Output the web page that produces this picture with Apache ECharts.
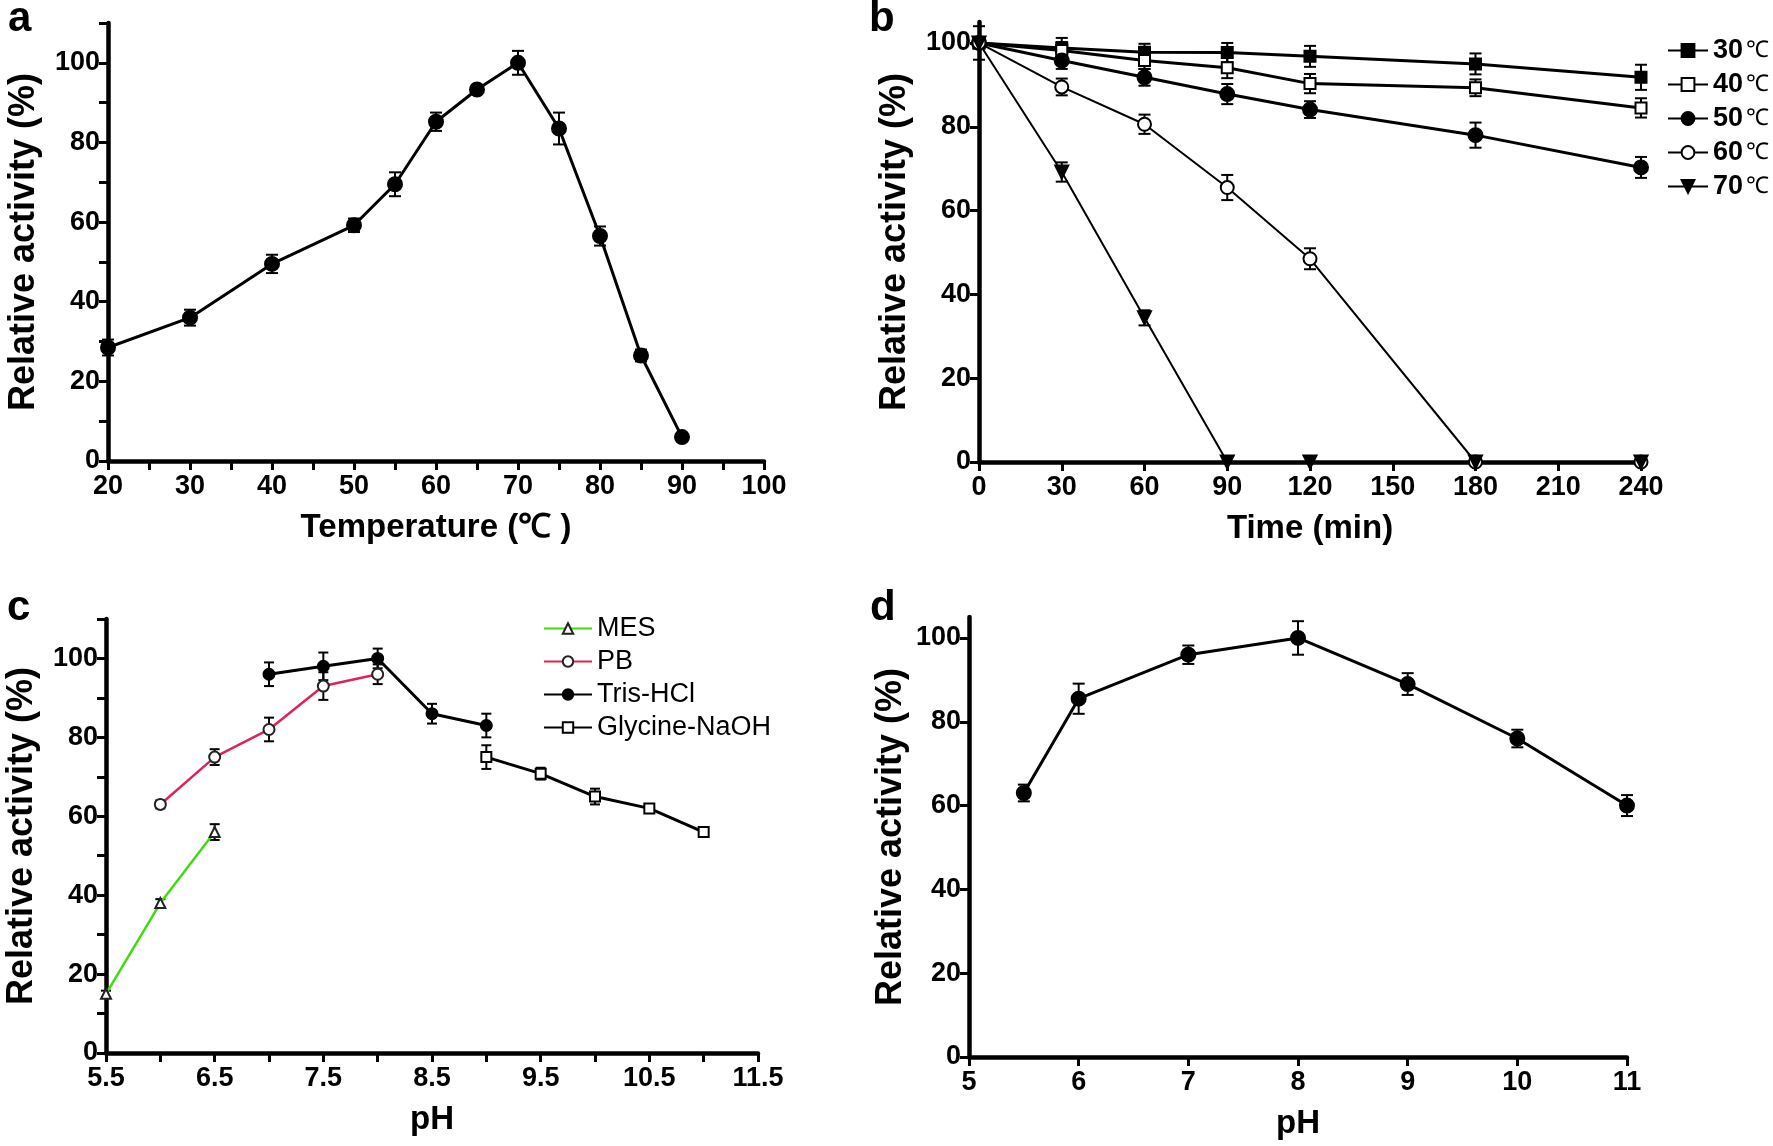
<!DOCTYPE html>
<html><head><meta charset="utf-8">
<script src="https://cdn.jsdelivr.net/npm/echarts@6/dist/echarts.min.js"></script>
<style>html,body{margin:0;padding:0;background:#fff}#chart{width:1773px;height:1146px}</style>
</head><body><div id="chart"></div>
<script>
// ---------- Panel a: optimal temperature ----------
const tempX = [20, 30, 40, 50, 55, 60, 65, 70, 75, 80, 85, 90];
const tempY = [28.5, 36, 49.5, 59.2, 69.5, 85.2, 93.3, 100, 83.5, 56.5, 26.5, 6];
const tempErr = [2, 2, 2.3, 1.7, 3, 2.3, 0.8, 3, 4, 2.4, 1.5, 0.5];
const tempXTicks = [20, 25, 30, 35, 40, 45, 50, 55, 60, 65, 70, 75, 80, 85, 90, 95, 100];
const tempXLabels = [20, 30, 40, 50, 60, 70, 80, 90, 100];

// shared y ticks
const yTicks110 = [0, 10, 20, 30, 40, 50, 60, 70, 80, 90, 100, 110];
const yLabels = [0, 20, 40, 60, 80, 100];

// ---------- Panel b: thermostability ----------
const timeX = [0, 30, 60, 90, 120, 180, 240];
const timeLabels = [0, 30, 60, 90, 120, 150, 180, 210, 240];
const stabNames = ['30 ℃', '40 ℃', '50 ℃', '60 ℃', '70 ℃'];
const stab30 = [100, 98.8, 97.8, 97.7, 96.8, 95, 91.8];
const stab40 = [100, 98.2, 95.8, 94.1, 90.3, 89.3, 84.5];
const stab50 = [100, 95.8, 91.8, 87.8, 84.1, 78, 70.3];
const stab60 = [100, 89.5, 80.6, 65.5, 48.5, 0, 0];
const stab70 = [100, 69.2, 34.4, 0, 0, 0, 0];
const err30 = [4, 2.4, 2, 2.3, 2.5, 2.5, 3];
const err40 = [0, 2, 2, 2.5, 2.3, 2, 2.3];
const err50 = [0, 2, 2, 2.4, 2, 3, 2.5];
const err60 = [0, 2, 2.3, 3, 2.5, 0.6, 0.6];
const err70 = [0, 2.3, 1.8, 0, 0, 0, 0];

// ---------- Panel c: optimal pH in buffers ----------
const bufNames = ['MES', 'PB', 'Tris-HCl', 'Glycine-NaOH'];
const mesX = [5.5, 6, 6.5];
const mesY = [15, 38, 56];
const mesErr = [0.8, 1, 2];
const pbX = [6, 6.5, 7, 7.5, 8];
const pbY = [63, 75, 82, 93, 96];
const pbErr = [1, 2, 3, 3.5, 2.5];
const trisX = [7, 7.5, 8, 8.5, 9];
const trisY = [96, 98, 100, 86, 83];
const trisErr = [3, 3.5, 2.5, 2.5, 3];
const glyX = [9, 9.5, 10, 10.5, 11];
const glyY = [75, 70.8, 65, 62, 56];
const glyErr = [3, 1.5, 2, 1, 0.5];
const phCTicks = [5.5, 6, 6.5, 7, 7.5, 8, 8.5, 9, 9.5, 10, 10.5, 11, 11.5];
const phCLabels = [5.5, 6.5, 7.5, 8.5, 9.5, 10.5, 11.5];

// ---------- Panel d: pH stability ----------
const phDX = [5.5, 6, 7, 8, 9, 10, 11];
const phDY = [63, 85.5, 96, 100, 89, 76, 60];
const phDErr = [2, 3.6, 2.2, 4, 2.6, 2.1, 2.5];
const phDLabels = [5, 6, 7, 8, 9, 10, 11];

// ---------- helpers ----------
const SANS = "'Liberation Sans', Arial, Helvetica, sans-serif";
const zip = (xs, ys) => xs.map((x, i) => [x, ys[i]]);
const errData = (xs, ys, es) => xs.map((x, i) => [x, ys[i] - es[i], ys[i] + es[i], es[i]]).filter(d => d[3] > 0);

function errBar(cap, lw) {
  return function (params, api) {
    const x = api.value(0);
    const lo = api.coord([x, api.value(1)]);
    const hi = api.coord([x, api.value(2)]);
    const st = { stroke: '#000', lineWidth: lw };
    return {
      type: 'group', children: [
        { type: 'line', shape: { x1: lo[0], y1: lo[1], x2: hi[0], y2: hi[1] }, style: st },
        { type: 'line', shape: { x1: lo[0] - cap, y1: lo[1], x2: lo[0] + cap, y2: lo[1] }, style: st },
        { type: 'line', shape: { x1: hi[0] - cap, y1: hi[1], x2: hi[0] + cap, y2: hi[1] }, style: st }
      ]
    };
  };
}
function errSeries(grid, xs, ys, es, cap, lw) {
  return { type: 'custom', xAxisIndex: grid, yAxisIndex: grid, z: 1, silent: true,
    renderItem: errBar(cap, lw), data: errData(xs, ys, es), encode: { x: 0, y: [1, 2] } };
}
const tickLabelStyle = { color: '#000', fontFamily: SANS, fontWeight: 'bold', fontSize: 27 };
function xAx(grid, min, max, ticks, labels, name, gap) {
  return {
    type: 'value', gridIndex: grid, min: min, max: max,
    axisLine: { show: true, onZero: false, lineStyle: { color: '#000', width: 4.5 } },
    axisTick: { show: true, customValues: ticks, length: 9, lineStyle: { color: '#000', width: 3 } },
    axisLabel: Object.assign({ customValues: labels, margin: 12 }, tickLabelStyle),
    splitLine: { show: false },
    name: name, nameLocation: 'middle', nameGap: gap,
    nameTextStyle: { color: '#000', fontFamily: SANS, fontWeight: 'bold', fontSize: 33 }
  };
}
function yAx(grid, max, ticks, labels, gap) {
  return {
    type: 'value', gridIndex: grid, min: 0, max: max,
    axisLine: { show: true, onZero: false, lineStyle: { color: '#000', width: 4.5 } },
    axisTick: { show: true, customValues: ticks, length: 9, lineStyle: { color: '#000', width: 3 } },
    axisLabel: Object.assign({ customValues: labels, margin: 8 }, tickLabelStyle),
    splitLine: { show: false },
    name: 'Relative activity (%)', nameLocation: 'middle', nameGap: gap,
    nameTextStyle: { color: '#000', fontFamily: SANS, fontWeight: 'bold', fontSize: 36 }
  };
}
function lineS(grid, name, xs, ys, opt) {
  return Object.assign({
    type: 'line', name: name, xAxisIndex: grid, yAxisIndex: grid, z: 3,
    data: zip(xs, ys), symbol: 'circle', symbolSize: 14,
    lineStyle: { color: '#000', width: 3 },
    itemStyle: { color: '#000', borderColor: '#000', borderWidth: 2 },
    emphasis: { disabled: true }, animation: false
  }, opt || {});
}

const option = {
  animation: false,
  backgroundColor: '#fff',
  title: [
    { text: 'a', left: 3, top: -7 },
    { text: 'b', left: 864, top: -7 },
    { text: 'c', left: 2, top: 582 },
    { text: 'd', left: 865, top: 582 }
  ].map(t => Object.assign(t, { textStyle: { fontFamily: SANS, fontWeight: 'bold', fontSize: 42, color: '#000' } })),
  grid: [
    { left: 108, top: 23, width: 656, height: 438 },
    { left: 979, top: 22, width: 662, height: 440 },
    { left: 106, top: 619, width: 652, height: 434 },
    { left: 969, top: 617, width: 658, height: 440 }
  ],
  xAxis: [
    xAx(0, 20, 100, tempXTicks, tempXLabels, 'Temperature (℃ )', 50),
    xAx(1, 0, 240, timeLabels, timeLabels, 'Time (min)', 50),
    xAx(2, 5.5, 11.5, phCTicks, phCLabels, 'pH', 50),
    xAx(3, 5, 11, phDLabels, phDLabels, 'pH', 50)
  ],
  yAxis: [
    yAx(0, 110, yTicks110, yLabels, 66),
    yAx(1, 105, yLabels, yLabels, 66),
    yAx(2, 110, yTicks110, yLabels, 66),
    yAx(3, 105, yLabels, yLabels, 60)
  ],
  legend: [
    {
      data: stabNames, orient: 'vertical', left: 1662, top: 32, itemWidth: 40, itemHeight: 16, itemGap: 7,
      selectedMode: false,
      formatter: n => { const p = n.split(' '); return '{b|' + p[0] + '} {n|' + p[1] + '}'; },
      textStyle: { color: '#000', rich: {
        b: { fontFamily: SANS, fontWeight: 'bold', fontSize: 27, color: '#000' },
        n: { fontFamily: SANS, fontSize: 23, color: '#000' } } }
    },
    {
      data: bufNames, orient: 'vertical', left: 538, top: 610, itemWidth: 48, itemHeight: 13, itemGap: 6,
      selectedMode: false,
      textStyle: { color: '#000', fontFamily: SANS, fontSize: 27 }
    }
  ],
  series: [
    // a
    errSeries(0, tempX, tempY, tempErr, 6, 2),
    lineS(0, 'Temperature', tempX, tempY),
    // b
    errSeries(1, timeX, stab30, err30, 6, 2),
    errSeries(1, timeX, stab40, err40, 6, 2),
    errSeries(1, timeX, stab50, err50, 6, 2),
    errSeries(1, timeX, stab60, err60, 6, 2),
    errSeries(1, timeX, stab70, err70, 6, 2),
    lineS(1, stabNames[0], timeX, stab30, { symbol: 'rect', symbolSize: 11, lineStyle: { color: '#000', width: 3 } }),
    lineS(1, stabNames[1], timeX, stab40, { symbol: 'emptyRect', symbolSize: 11, lineStyle: { color: '#000', width: 3 } }),
    lineS(1, stabNames[2], timeX, stab50, { symbol: 'circle', symbolSize: 14, lineStyle: { color: '#000', width: 3 } }),
    lineS(1, stabNames[3], timeX, stab60, { symbol: 'emptyCircle', symbolSize: 13, lineStyle: { color: '#000', width: 2 } }),
    lineS(1, stabNames[4], timeX, stab70, { symbol: 'triangle', symbolRotate: 180, symbolSize: 13, lineStyle: { color: '#000', width: 2 } }),
    // c
    errSeries(2, mesX, mesY, mesErr, 5, 2),
    errSeries(2, pbX, pbY, pbErr, 5, 2),
    errSeries(2, trisX, trisY, trisErr, 5, 2),
    errSeries(2, glyX, glyY, glyErr, 5, 2),
    lineS(2, bufNames[0], mesX, mesY, { symbol: 'emptyTriangle', symbolSize: 10, lineStyle: { color: '#3fdc12', width: 2.5 }, itemStyle: { color: '#222', borderColor: '#222', borderWidth: 1.5 } }),
    lineS(2, bufNames[1], pbX, pbY, { symbol: 'emptyCircle', symbolSize: 11, lineStyle: { color: '#dc2458', width: 2.5 }, itemStyle: { color: '#222', borderColor: '#222', borderWidth: 1.5 } }),
    lineS(2, bufNames[2], trisX, trisY, { symbol: 'circle', symbolSize: 11, lineStyle: { color: '#000', width: 3 } }),
    lineS(2, bufNames[3], glyX, glyY, { symbol: 'emptyRect', symbolSize: 10, lineStyle: { color: '#000', width: 3 }, itemStyle: { color: '#000', borderColor: '#000', borderWidth: 1.5 } }),
    // d
    errSeries(3, phDX, phDY, phDErr, 6, 2),
    lineS(3, 'pH stability', phDX, phDY)
  ]
};
const chart = echarts.init(document.getElementById('chart'), null, { renderer: 'canvas' });
chart.setOption(option);
</script>
</body></html>
